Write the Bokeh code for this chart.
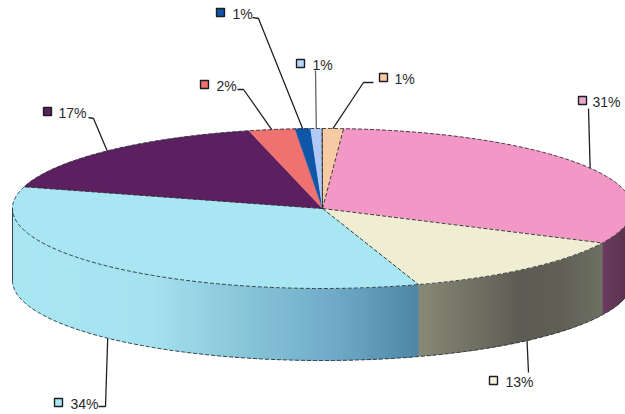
import numpy as np
from bokeh.plotting import figure
from bokeh.core.properties import value
from bokeh.embed import file_html
from bokeh.resources import INLINE

# Slice shares, clockwise from the start angle; labels show them rounded to whole percent
shares = [31.0, 12.9, 34.4, 16.8, 2.4, 0.8, 0.6, 1.1]
top_colors = ["#F398C6", "#EFEDD2", "#A8E6F3", "#5C2060", "#EF7271", "#0F55A8", "#B0C9F5", "#F6CBA4"]
key_colors = ["#E9A8C8", "#F4F2DC", "#A8E6F3", "#5C2060", "#EF7271", "#0F55A8", "#B8D8F5", "#F6CBA4"]

# Pie geometry on the page, in pixels
cx, cy, rx, ry, depth = 322.0, 208.0, 310.0, 80.0, 72.0
start_angle = 86.1

# Text offset, key-box offset and leader elbows, relative to the page
label_x = [592, 505, 70, 58, 216, 232, 312, 394]
label_y = [101, 381, 403, 112, 85, 13, 64, 78]
key_x = [582, 493, 58, 47, 204, 220, 300, 383]
key_y = [100, 380, 402, 111, 84, 12, 63, 77]
elbows = [
    [(588, 108)],
    [(528, 372)],
    [(98, 406), (105, 406)],
    [(88, 117), (93, 118)],
    [(237, 89), (243, 89)],
    [(252, 17), (258, 18)],
    [(315, 70)],
    [(373, 82), (363, 82)],
]

# Side-wall shading stops by horizontal position
wall_x = [[600, 632], [420, 470, 520, 560, 602], [12, 150, 220, 330, 420], [0, 1]]
wall_rgb = [
    [(108, 60, 94), (88, 50, 78)],
    [(136, 136, 120), (114, 114, 100), (92, 92, 84), (96, 96, 86), (110, 112, 98)],
    [(168, 230, 242), (166, 227, 240), (142, 204, 222), (112, 172, 200), (78, 133, 165)],
    [(0, 0, 0), (0, 0, 0)],
]

def px(t):
    return cx + rx * np.cos(np.radians(t))

def py(t):
    return cy - ry * np.sin(np.radians(t))

edges = start_angle - np.concatenate([[0], np.cumsum(shares)]) * 3.6
p = figure(width=625, height=414, x_range=(0, 625), y_range=(414, 0),
           toolbar_location=None, output_backend="svg", min_border=0)
p.axis.visible = False
p.grid.visible = False
p.outline_line_color = None
p.background_fill_color = "white"
p.border_fill_color = "white"

# Front wall: thin strips painted left to right, each running on under the next to close seams
spans = []
for i in range(len(shares)):
    a, b = max(edges[i + 1], -180.0), min(edges[i], 0.0)
    if a < b:
        spans.append((a, b, i))
xs, ys, cols = [], [], []
for a, b, i in sorted(spans):
    steps = max(2, int((b - a) / 0.75))
    grid = np.linspace(a, b, steps + 1)
    channels = np.array(wall_rgb[min(i, 3)], dtype=float)
    for t0, t1 in zip(grid[:-1], grid[1:]):
        t = np.linspace(t0, min(t1 + 1.5, b), 4)
        xs.append(list(px(t)) + list(px(t[::-1])))
        ys.append(list(py(t)) + list(py(t[::-1]) + depth))
        mid = px((t0 + t1) / 2)
        c = [int(round(np.interp(mid, wall_x[min(i, 3)], channels[:, k]))) for k in range(3)]
        cols.append("#%02x%02x%02x" % tuple(c))
p.patches(xs, ys, fill_color=cols, line_color=None)

# Top face
xs, ys = [], []
for i in range(len(shares)):
    t = np.linspace(edges[i], edges[i + 1], max(3, int((edges[i] - edges[i + 1]) * 2)))
    xs.append([cx] + list(px(t)))
    ys.append([cy] + list(py(t)))
p.patches(xs, ys, fill_color=top_colors, line_color=top_colors, line_width=0.4)

# Rims and the edges between slices
t = np.linspace(0, 360, 721)
p.line(px(t), py(t), line_color="#2a3038", line_width=0.9, line_dash="4 2")
t = np.linspace(-180, 0, 361)
p.line(px(t), py(t) + depth, line_color="#2a3038", line_width=0.9, line_dash="4 2")
p.line(px(t[:1]).tolist() * 2, [py(-180), py(-180) + depth], line_color="#2a3038", line_width=0.9)
spokes = [0, 1, 2, 3, 7]
p.multi_line([[cx, px(edges[i])] for i in spokes], [[cy, py(edges[i])] for i in spokes],
             line_color="#2a2a30", line_width=0.9, line_dash="4 2")
p.line([cx, px(edges[7])], [cy, py(edges[7])], line_color="#333333", line_width=0.9)

# Leaders run from each slice's middle on the visible rim out to its label
mids = (edges[:-1] + edges[1:]) / 2
lx, ly = [], []
for i, m in enumerate(mids):
    m_norm = (m + 180) % 360 - 180
    drop = depth if m_norm < 0 else 0.0
    pts = elbows[i] + [(px(m), py(m) + drop)]
    lx.append([q[0] for q in pts])
    ly.append([q[1] for q in pts])
lead_cols = ["#222222"] * len(shares)
lead_cols[6] = "#666666"
p.multi_line(lx, ly, line_color=lead_cols, line_width=1.3)

# Key boxes and percentage labels
p.scatter(key_x, key_y, marker="square", size=8, fill_color=key_colors,
          line_color="#1c1c22", line_width=1.4)
p.text(label_x, label_y, text=[f"{v:.0f}%" for v in shares], text_font=value("Liberation Sans"),
       text_font_size="14px", text_color="#2a2a2a", text_baseline="middle", text_align="left")

open("out.html", "w").write(file_html(p, INLINE))
